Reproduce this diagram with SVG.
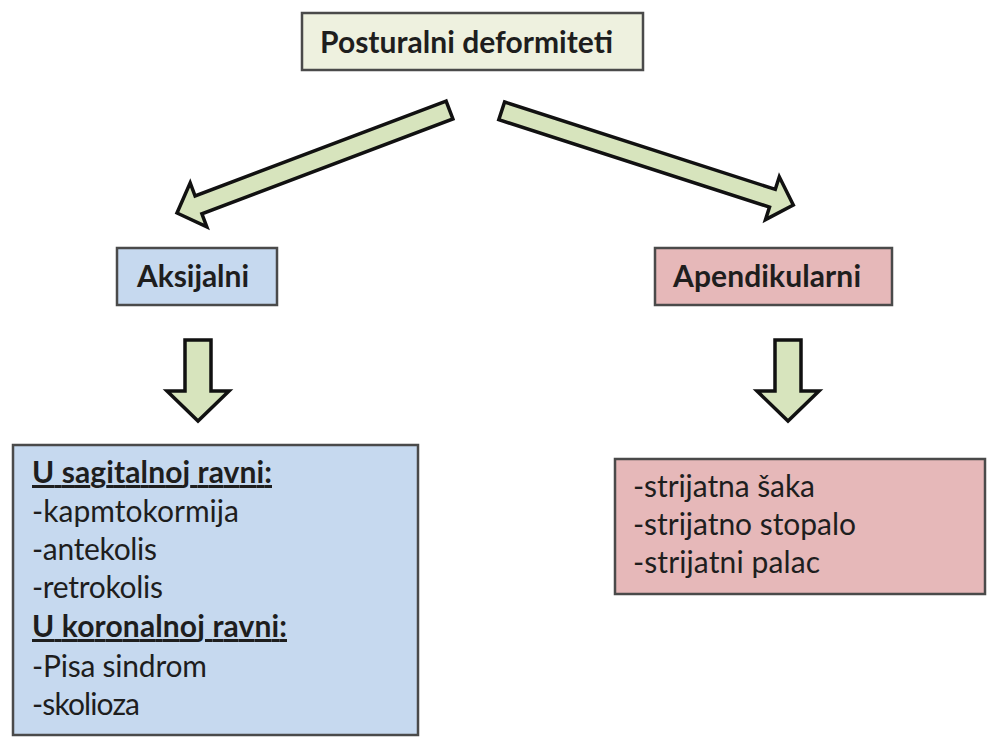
<svg xmlns="http://www.w3.org/2000/svg" width="991" height="737" viewBox="0 0 991 737">
<style>
.box{stroke:#4a4a4a;stroke-width:2.5}
.arrow{fill:#d7e4bd;stroke:#111;stroke-width:3.5;stroke-linejoin:miter}
text{font-family:Lato,"Open Sans","Liberation Sans",sans-serif;font-size:30px;fill:#1e1e1e}
.b{font-weight:bold}
.u{font-weight:bold;text-decoration:underline}
</style>
<rect width="991" height="737" fill="#ffffff"/>
<g id="connectors">
<polygon class="arrow" points="446.1,101.1 195.1,196.0 190.2,182.9 177,213 206.8,226.9 201.9,213.8 452.9,118.9"/>
<polygon class="arrow" points="504.6,102.0 775.3,189.4 779.3,176.8 793.3,205 765.5,219.6 769.5,207.1 498.8,119.7"/>
<polygon class="arrow" points="185,340 211,340 211,391 229,391 198,421 167,391 185,391"/>
<polygon class="arrow" points="775,340 801,340 801,391 819,391 788,421 757,391 775,391"/>
</g>
<g id="node-root">
<rect class="box" x="302" y="13" width="341" height="57" fill="#eef1df"/>
<text class="b" x="320" y="53" textLength="293">Posturalni deformiteti</text>
</g>
<g id="node-aksijalni">
<rect class="box" x="117" y="248" width="160" height="57" fill="#c6d9ef"/>
<text class="b" x="137" y="287" textLength="112">Aksijalni</text>
</g>
<g id="node-apendikularni">
<rect class="box" x="655" y="248" width="237" height="57" fill="#e6b8b9"/>
<text class="b" x="673" y="287" textLength="188">Apendikularni</text>
</g>
<g id="node-aksijalni-list">
<rect class="box" x="13" y="445" width="405" height="290" fill="#c6d9ef"/>
<text class="u" x="32" y="483" textLength="240">U sagitalnoj ravni:</text>
<text x="32" y="522" textLength="207">-kapmtokormija</text>
<text x="32" y="560" textLength="125">-antekolis</text>
<text x="32" y="598" textLength="131">-retrokolis</text>
<text class="u" x="32" y="637" textLength="255">U koronalnoj ravni:</text>
<text x="32" y="677" textLength="175">-Pisa sindrom</text>
<text x="32" y="715" textLength="108">-skolioza</text>
</g>
<g id="node-apendikularni-list">
<rect class="box" x="615" y="459" width="370" height="135" fill="#e6b8b9"/>
<text x="633" y="497" textLength="182">-strijatna šaka</text>
<text x="633" y="535" textLength="223">-strijatno stopalo</text>
<text x="633" y="573" textLength="187">-strijatni palac</text>
</g>
</svg>
